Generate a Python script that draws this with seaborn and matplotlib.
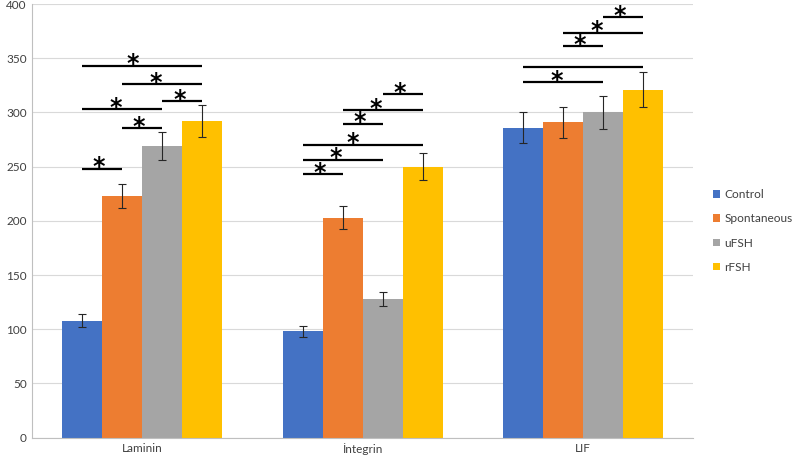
import numpy as np
import pandas as pd
import matplotlib
matplotlib.use("Agg")
import matplotlib.pyplot as plt
import seaborn as sns

# data
categories = ["Laminin", "İntegrin", "LIF"]
groups = ["Control", "Spontaneous", "uFSH", "rFSH"]
control = [108, 98, 286]
spontaneous = [223, 203, 291]
ufsh = [269, 128, 300]
rfsh = [292, 250, 321]
control_err = [5.7, 5, 14.5]
spontaneous_err = [11.4, 10.3, 14.5]
ufsh_err = [13.2, 6.5, 15]
rfsh_err = [14.5, 12.5, 16]

# significance brackets: category, first group, second group, height, label
sig_cat = [0, 0, 0, 0, 0, 0, 1, 1, 1, 1, 1, 1, 2, 2, 2, 2, 2]
sig_from = [0, 1, 0, 2, 1, 0, 0, 0, 0, 1, 1, 2, 0, 0, 1, 1, 2]
sig_to = [1, 2, 2, 3, 3, 3, 1, 2, 3, 2, 3, 3, 2, 3, 2, 3, 3]
sig_y = [248, 285.6, 302.8, 310.5, 326, 343,
         243, 256.6, 270, 289.6, 302, 316.7,
         328, 341.6, 361, 373.6, 388]
sig_label = ["*"] * 13 + [""] + ["*"] * 3

colors = ["#4472C4", "#ED7D31", "#A5A5A5", "#FFC000"]

sns.set_style("white")
plt.rcParams["font.family"] = ["Lato", "DejaVu Sans"]

values = [control, spontaneous, ufsh, rfsh]
errors = [control_err, spontaneous_err, ufsh_err, rfsh_err]
df = pd.DataFrame({
    "category": np.repeat([categories], len(groups), axis=0).ravel(),
    "group": np.repeat(groups, len(categories)),
    "value": np.concatenate(values),
})

fig = plt.figure(figsize=(7.94, 4.62), dpi=100)
ax = fig.add_axes([0.0407, 0.053, 0.832, 0.938])
sns.barplot(data=df, x="category", y="value", hue="group", order=categories,
            hue_order=groups, palette=colors, width=0.727, saturation=1,
            errorbar=None, ax=ax, linewidth=0, zorder=2)

centers = []
for cont, err in zip(ax.containers, errors):
    xs = [b.get_x() + b.get_width() / 2 for b in cont]
    hs = [b.get_height() for b in cont]
    centers.append(xs)
    ax.errorbar(xs, hs, yerr=err, fmt="none", ecolor="#262626",
                elinewidth=0.8, capsize=2.6, capthick=0.8, zorder=3)

for c, a, b, y, lab in zip(sig_cat, sig_from, sig_to, sig_y, sig_label):
    x0, x1 = centers[a][c], centers[b][c]
    ax.plot([x0, x1], [y, y], color="black", lw=1.6, solid_capstyle="butt", zorder=4)
    if lab:
        ax.text(x0 + 0.42 * (x1 - x0), y - 5, lab, ha="center", va="baseline",
                fontsize=17, fontweight="bold", color="black",
                family="DejaVu Sans", zorder=5)

ax.set_xlim(-0.5, 2.5)
ax.set_ylim(0, 400)
ax.set_yticks(np.arange(0, 401, 50))
ax.yaxis.grid(True, color="#D9D9D9", lw=0.8, zorder=0)
ax.set_axisbelow(True)
ax.set_xlabel("")
ax.set_ylabel("")
for s in ["top", "right"]:
    ax.spines[s].set_visible(False)
for s in ["left", "bottom"]:
    ax.spines[s].set_color("#BFBFBF")
    ax.spines[s].set_linewidth(0.8)
ax.tick_params(axis="both", which="major", length=0, labelsize=8.5,
               labelcolor="#404040", pad=4)
ax.set_xticks([-0.5, 0.5, 1.5, 2.5], minor=True)
ax.tick_params(axis="x", which="minor", length=3.5, color="#BFBFBF", width=0.8)

handles, labels = ax.get_legend_handles_labels()
ax.legend(handles, labels, loc="center left", bbox_to_anchor=(0.898, 0.50),
          bbox_transform=fig.transFigure, frameon=False, fontsize=8.6,
          handlelength=0.6, handleheight=0.6, handletextpad=0.35,
          labelspacing=1.1, labelcolor="#404040", borderaxespad=0,
          borderpad=0)

fig.savefig("out.png", dpi=100)
